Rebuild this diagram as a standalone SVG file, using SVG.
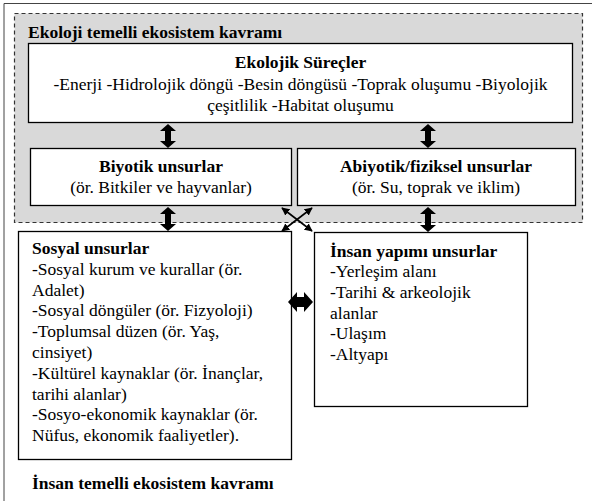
<svg xmlns="http://www.w3.org/2000/svg" width="592" height="501" viewBox="0 0 592 501" font-family="'Liberation Serif', 'DejaVu Serif', serif">
<style>
text{font-family:'Liberation Serif','DejaVu Serif',serif;fill:#000;font-size:17.5px}
.b{font-weight:bold}
.c{text-anchor:middle}
.box{fill:#fff;stroke:#000;stroke-width:1.3}
.blk{fill:#000}
.thin{stroke:#000;stroke-width:1.6;fill:none;marker-start:url(#ah);marker-end:url(#ah)}
</style>
<defs>
<marker id="ah" viewBox="0 0 10 10" refX="9" refY="5" markerWidth="5" markerHeight="5" orient="auto-start-reverse" markerUnits="strokeWidth">
<path d="M0,0 L10,5 L0,10 z" fill="#000"/>
</marker>
</defs>
<path d="M4,501 V3.5 H592" fill="none" stroke="#444" stroke-width="1"/>
<g id="ecology-frame">
<rect x="14.5" y="13.5" width="568" height="209" fill="#d9d9d9" stroke="#333" stroke-width="1.2" stroke-dasharray="4,3"/>
<text class="b" x="28" y="37.5">Ekoloji temelli ekosistem kavramı</text>
</g>
<g id="ekolojik-surecler">
<rect class="box" x="28.5" y="43.5" width="544" height="79"/>
<text class="b c" x="300.5" y="67.5">Ekolojik Süreçler</text>
<text class="c" x="300.5" y="90">-Enerji -Hidrolojik döngü -Besin döngüsü -Toprak oluşumu -Biyolojik</text>
<text class="c" x="300.5" y="111">çeşitlilik -Habitat oluşumu</text>
</g>
<g id="biyotik">
<rect class="box" x="30.5" y="148.5" width="261" height="57"/>
<text class="b c" x="161" y="172">Biyotik unsurlar</text>
<text class="c" x="161" y="193">(ör. Bitkiler ve hayvanlar)</text>
</g>
<g id="abiyotik">
<rect class="box" x="297.5" y="148.5" width="278" height="57"/>
<text class="b c" x="436" y="172">Abiyotik/fiziksel unsurlar</text>
<text class="c" x="436" y="193">(ör. Su, toprak ve iklim)</text>
</g>
<g id="sosyal">
<rect class="box" x="18.5" y="231.5" width="273" height="228"/>
<text class="b" x="32" y="254">Sosyal unsurlar</text>
<text x="32" y="274.8">-Sosyal kurum ve kurallar (ör.</text>
<text x="32" y="295.6">Adalet)</text>
<text x="32" y="316.4">-Sosyal döngüler (ör. Fizyoloji)</text>
<text x="32" y="337.2">-Toplumsal düzen (ör. Yaş,</text>
<text x="32" y="358">cinsiyet)</text>
<text x="32" y="378.8">-Kültürel kaynaklar (ör. İnançlar,</text>
<text x="32" y="399.6">tarihi alanlar)</text>
<text x="32" y="420.4">-Sosyo-ekonomik kaynaklar (ör.</text>
<text x="32" y="441.2">Nüfus, ekonomik faaliyetler).</text>
</g>
<g id="insan-yapimi">
<rect class="box" x="314.5" y="232.5" width="213" height="174"/>
<text class="b" x="330" y="256.5">İnsan yapımı unsurlar</text>
<text x="330" y="277.2">-Yerleşim alanı</text>
<text x="330" y="297.9">-Tarihi &amp; arkeolojik</text>
<text x="330" y="318.6">alanlar</text>
<text x="330" y="339.3">-Ulaşım</text>
<text x="330" y="360">-Altyapı</text>
</g>
<g id="insan-temelli-label">
<text class="b" x="32" y="489">İnsan temelli ekosistem kavramı</text>
</g>
<g id="connectors">
<polygon class="blk" points="168,124 176,131 171,131 171,141 176,141 168,148 160,141 165,141 165,131 160,131"/>
<polygon class="blk" points="428,124 436,131 431,131 431,141 436,141 428,148 420,141 425,141 425,131 420,131"/>
<polygon class="blk" points="168,207 176,214 171,214 171,224 176,224 168,231 160,224 165,224 165,214 160,214"/>
<polygon class="blk" points="428,207 436,214 431,214 431,225 436,225 428,232 420,225 425,225 425,214 420,214"/>
<polygon class="blk" points="288,302 297,292 297,297 304,297 304,292 313,302 304,312 304,307 297,307 297,312"/>
<line class="thin" x1="282" y1="208" x2="312" y2="231"/>
<line class="thin" x1="312" y1="208" x2="282" y2="231"/>
</g>
</svg>
